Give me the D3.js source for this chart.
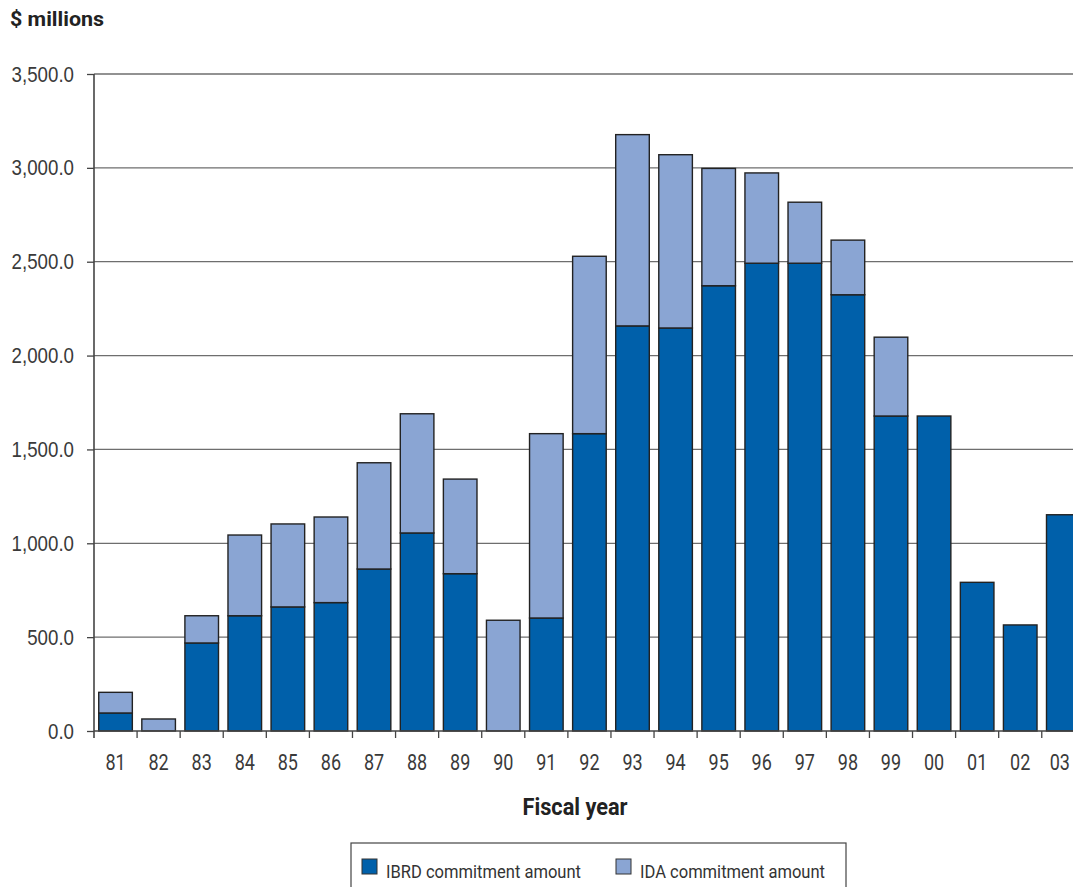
<!DOCTYPE html>
<html>
<head>
<meta charset="utf-8">
<script src="https://cdn.jsdelivr.net/npm/d3@7"></script>
<style>
  html, body { margin: 0; padding: 0; background: #fff; overflow: hidden; }
  svg { display: block; font-family: Roboto, "Noto Sans", sans-serif; }
</style>
</head>
<body>
<svg id="chart" width="1073" height="887"></svg>
<script>
// Fiscal years and commitment amounts ($ millions)
const years = ["81","82","83","84","85","86","87","88","89","90","91","92","93","94","95","96","97","98","99","00","01","02","03"];
const ibrd  = [96, 0, 469, 614, 661, 684, 863, 1055, 838, 0, 602, 1584, 2158, 2147, 2372, 2492, 2492, 2324, 1678, 1678, 792, 565, 1152];
const ida   = [110, 64, 145, 430, 442, 456, 566, 635, 504, 590, 982, 945, 1019, 923, 625, 481, 325, 291, 420, 0, 0, 0, 0];
const yTicks = [0, 500, 1000, 1500, 2000, 2500, 3000, 3500];
const seriesNames = ["IBRD commitment amount", "IDA commitment amount"];
const colors = ["#0060aa", "#8aa5d3"];

const svg = d3.select("#chart");
const W = 1073;
const plotLeft = 94, plotTop = 74, plotBottom = 731;
const step = 43.08;
const plotRight = plotLeft + years.length * step;

// Narrow the glyphs of a text selection to a fraction of their natural width
function condense(sel, k) {
  sel.each(function () {
    const w = this.getComputedTextLength();
    d3.select(this).attr("textLength", w * k).attr("lengthAdjust", "spacingAndGlyphs");
  });
}
// Fit a single text to a fixed width
function fitWidth(sel, w) {
  sel.attr("textLength", w).attr("lengthAdjust", "spacingAndGlyphs");
}

const y = d3.scaleLinear().domain([0, 3500]).range([plotBottom, plotTop]);
const x = d3.scaleBand().domain(years).range([plotLeft, plotRight]).paddingInner(0.22).paddingOuter(0.11);
const xEdge = d3.scaleBand().domain(years).range([plotLeft, plotRight]).padding(0);

// Horizontal gridlines
svg.append("g").selectAll("line").data(yTicks.filter(v => v > 0)).join("line")
  .attr("x1", plotLeft).attr("x2", plotRight)
  .attr("y1", d => y(d)).attr("y2", d => y(d))
  .attr("stroke", "#6e6e6e").attr("stroke-width", 1.3);

// Stacked bars
const rows = years.map((yr, i) => ({ year: yr, ibrd: ibrd[i], ida: ida[i] }));
const stacked = d3.stack().keys(["ibrd", "ida"])(rows);
svg.append("g").selectAll("g").data(stacked).join("g")
  .attr("fill", (d, i) => colors[i])
  .selectAll("rect").data(d => d.filter(s => s[1] - s[0] > 0)).join("rect")
  .attr("x", d => x(d.data.year))
  .attr("width", x.bandwidth())
  .attr("y", d => y(d[1]))
  .attr("height", d => y(d[0]) - y(d[1]))
  .attr("stroke", "#222").attr("stroke-width", 1.4);

// Y axis
const yAxis = svg.append("g").attr("transform", `translate(${plotLeft},0)`)
  .call(d3.axisLeft(y).tickValues(yTicks).tickSize(7).tickPadding(13)
    .tickFormat(d => d3.format(",.1f")(d)));
yAxis.select(".domain").attr("stroke", "#444").attr("stroke-width", 1.6)
  .attr("d", `M0,${plotTop}V${plotBottom + 7}`);
yAxis.selectAll(".tick line").attr("stroke", "#444").attr("stroke-width", 1.3);
yAxis.selectAll("text").attr("font-family", null).attr("font-size", 22).attr("fill", "#3a3a3a")
  .call(condense, 0.85);

// X axis with ticks between categories
const xg = svg.append("g").attr("transform", `translate(0,${plotBottom})`);
xg.append("line").attr("x1", plotLeft).attr("x2", plotRight).attr("stroke", "#444").attr("stroke-width", 1.6);
xg.selectAll("line.tk").data(years).join("line").attr("class", "tk")
  .attr("x1", d => xEdge(d) + step).attr("x2", d => xEdge(d) + step)
  .attr("y1", 0).attr("y2", 7).attr("stroke", "#444").attr("stroke-width", 1.3);
xg.selectAll("text").data(years).join("text")
  .attr("x", d => xEdge(d) + step / 2).attr("y", 39)
  .attr("text-anchor", "middle").attr("font-size", 22.5).attr("fill", "#3a3a3a")
  .text(d => d)
  .call(condense, 0.8)
  .each(function () {
    // keep the last label inside the page edge
    const b = this.getBBox();
    const over = b.x + b.width - (W - 3);
    if (over > 0) d3.select(this).attr("x", +d3.select(this).attr("x") - over);
  });

// Titles
svg.append("text").attr("x", 10).attr("y", 26).attr("font-size", 20).attr("font-weight", "bold")
  .attr("fill", "#222").text("$ millions").call(fitWidth, 94);
svg.append("text").attr("x", 522.5).attr("y", 815)
  .attr("font-size", 23).attr("font-weight", "bold").attr("fill", "#222").text("Fiscal year")
  .call(fitWidth, 105);

// Legend
const lg = svg.append("g");
lg.append("rect").attr("x", 351).attr("y", 843).attr("width", 495).attr("height", 60)
  .attr("fill", "none").attr("stroke", "#444").attr("stroke-width", 1.2);
const itemX = [362, 616];
const itemW = [195, 185];
seriesNames.forEach((name, i) => {
  lg.append("rect").attr("x", itemX[i]).attr("y", 859).attr("width", 15).attr("height", 15)
    .attr("fill", colors[i]).attr("stroke", "#333").attr("stroke-width", 1);
  lg.append("text").attr("x", itemX[i] + 24).attr("y", 877.5).attr("font-size", 18.5)
    .attr("fill", "#333").text(name).call(fitWidth, itemW[i]);
});
</script>
</body>
</html>
